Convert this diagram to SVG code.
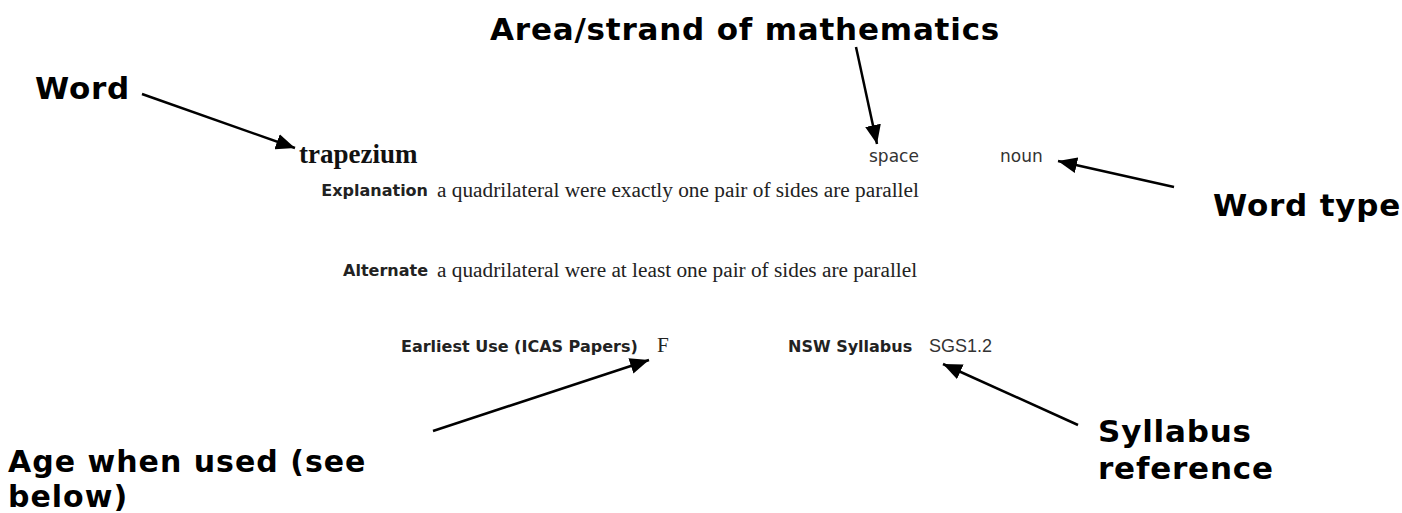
<svg xmlns="http://www.w3.org/2000/svg" width="1402" height="513" viewBox="0 0 1402 513">
<defs>
<style>
.big{font-family:"DejaVu Sans",Verdana,sans-serif;font-weight:bold;font-size:31px;letter-spacing:0.8px;fill:#000}
.lbl{font-family:"DejaVu Sans",Tahoma,sans-serif;font-weight:bold;font-size:16px;fill:#222}
.ser{font-family:"Liberation Serif","Times New Roman",serif;font-size:21.3px;fill:#222}
.sm{font-family:"DejaVu Sans",Verdana,sans-serif;font-size:17px;fill:#333}
.arr{stroke:#000;stroke-width:2.5;fill:none;marker-end:url(#ah)}
</style>
<marker id="ah" markerUnits="userSpaceOnUse" markerWidth="20" markerHeight="16" refX="19" refY="8" orient="auto">
<path d="M0,0 L19,8 L0,16 z" fill="#000"/>
</marker>
</defs>
<rect width="1402" height="513" fill="#fff"/>
<g id="entry">
<text x="299" y="163" font-family="Liberation Serif,'Times New Roman',serif" font-weight="bold" font-size="27" fill="#111">trapezium</text>
<text class="sm" x="869" y="162">space</text>
<text class="sm" x="1000" y="162">noun</text>
<text class="lbl" x="428" y="196" text-anchor="end">Explanation</text>
<text class="ser" x="437" y="197">a quadrilateral were exactly one pair of sides are parallel</text>
<text class="lbl" x="428" y="276" text-anchor="end">Alternate</text>
<text class="ser" x="437" y="277">a quadrilateral were at least one pair of sides are parallel</text>
<text class="lbl" x="401" y="352">Earliest Use (ICAS Papers)</text>
<text class="ser" x="657" y="352" font-size="18">F</text>
<text class="lbl" x="788" y="352">NSW Syllabus</text>
<text x="929" y="352" font-family="Liberation Sans,Arial,sans-serif" font-size="18" fill="#333">SGS1.2</text>
</g>
<g id="label-word"><text class="big" x="35" y="99">Word</text></g>
<g id="label-area"><text class="big" x="490" y="40">Area/strand of mathematics</text></g>
<g id="label-wordtype"><text class="big" x="1213" y="216">Word type</text></g>
<g id="label-syllabus"><text class="big" x="1098" y="442">Syllabus</text><text class="big" x="1098" y="479">reference</text></g>
<g id="label-age"><text class="big" x="8" y="472" style="font-size:30px;letter-spacing:1px">Age when used (see</text><text class="big" x="8" y="507" style="font-size:30px;letter-spacing:1px">below)</text></g>
<g id="connectors">
<line class="arr" x1="142" y1="94" x2="295" y2="148"/>
<line class="arr" x1="856" y1="47" x2="877" y2="144"/>
<line class="arr" x1="1174" y1="187" x2="1058" y2="161"/>
<line class="arr" x1="433" y1="431" x2="649" y2="360"/>
<line class="arr" x1="1078" y1="425" x2="943" y2="364"/>
</g>
</svg>
